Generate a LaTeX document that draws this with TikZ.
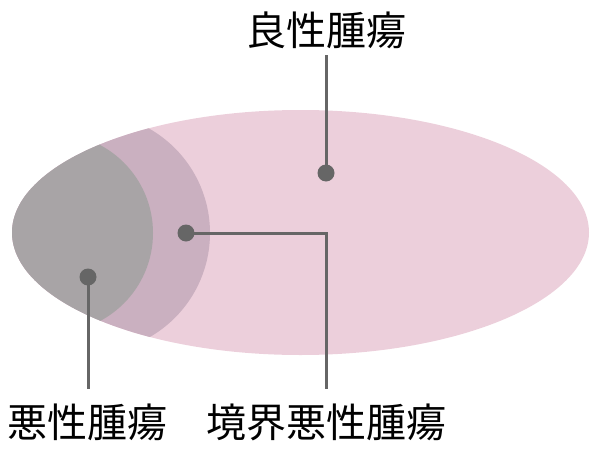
\documentclass[tikz,border=0pt]{standalone}
\usepackage{fontspec}
\newfontfamily\cjk{Noto Sans CJK JP}
\definecolor{benignpink}{RGB}{236,207,219}
\definecolor{bandpurple}{RGB}{202,176,192}
\definecolor{malgray}{RGB}{168,164,166}
\definecolor{linegray}{RGB}{102,102,102}
\tikzset{
  dotmark/.style={circle,fill=linegray,inner sep=0pt,minimum size=17pt},
  lbl/.style={font=\cjk\fontsize{40}{48}\selectfont,inner sep=0pt,text=black},
  conn/.style={draw=linegray,line width=3pt}
}
\begin{document}
\begin{tikzpicture}[x=1pt,y=-1pt]
\useasboundingbox (0,0) rectangle (600,450);
\fill[benignpink] (300.5,232.5) ellipse [x radius=288.5pt, y radius=122.5pt];
\begin{scope}
  \clip (300.5,232.5) ellipse [x radius=288.5pt, y radius=122.5pt];
  \fill[bandpurple] (90,233) circle [radius=120pt];
  \fill[malgray] (53.4,233) circle [radius=99.6pt];
\end{scope}
\node[dotmark] (d1) at (326,173) {};
\node[dotmark] (d2) at (186,233) {};
\node[dotmark] (d3) at (88,277) {};
\node[lbl] (benign) at (326,30) {良性腫瘍};
\node[lbl] (malig) at (88,422) {悪性腫瘍};
\node[lbl] (border) at (326,422) {境界悪性腫瘍};
\coordinate (c1) at (326,55);
\coordinate (c2) at (326,233);
\coordinate (c2b) at (326,389);
\coordinate (c3) at (88,389);
\draw[conn] (c1) -- (d1.center);
\draw[conn] (d2.center) -- (c2) -- (c2b);
\draw[conn] (d3.center) -- (c3);
\end{tikzpicture}
\end{document}
